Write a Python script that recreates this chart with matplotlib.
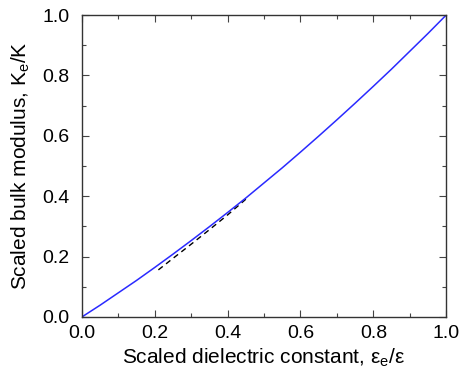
import matplotlib
matplotlib.use("Agg")
import matplotlib.pyplot as plt
from matplotlib.ticker import MultipleLocator

plt.rcParams['font.family'] = ['Liberation Sans', 'DejaVu Sans']
plt.rcParams['mathtext.fontset'] = 'custom'
plt.rcParams['mathtext.rm'] = 'Liberation Sans'

# blue curve
eps_ratio = [0.0, 0.05, 0.10, 0.15, 0.20, 0.25, 0.30, 0.35, 0.40, 0.45, 0.50,
             0.55, 0.60, 0.65, 0.70, 0.75, 0.80, 0.85, 0.90, 0.95, 1.0]
k_ratio = [0.0, 0.039, 0.080, 0.121, 0.164, 0.208, 0.253, 0.299, 0.346, 0.394, 0.444,
           0.494, 0.546, 0.599, 0.653, 0.708, 0.764, 0.821, 0.880, 0.939, 1.0]

# black dashed segment
eps_dash = [0.21, 0.25, 0.30, 0.35, 0.40, 0.45]
k_dash = [0.156, 0.194, 0.241, 0.289, 0.338, 0.390]

fig = plt.figure(figsize=(4.6, 3.76), dpi=100)
ax = fig.add_axes([0.178, 0.157, 0.792, 0.803])

ax.plot(eps_dash, k_dash, color='black', lw=1.0, dashes=(4, 3))
ax.plot(eps_ratio, k_ratio, color='#2a2aff', lw=1.1)

ax.set_xlim(0, 1)
ax.set_ylim(0, 1)
ax.xaxis.set_major_locator(MultipleLocator(0.2))
ax.yaxis.set_major_locator(MultipleLocator(0.2))
ax.xaxis.set_minor_locator(MultipleLocator(0.1))
ax.yaxis.set_minor_locator(MultipleLocator(0.1))
ax.tick_params(which='both', direction='in', top=True, right=True, color='#444444')
ax.tick_params(which='major', length=5, width=0.8, labelsize=14)
ax.tick_params(which='minor', length=3, width=0.8)
ax.tick_params(axis='y', pad=9)
ax.tick_params(axis='x', pad=6)
for s in ax.spines.values():
    s.set_linewidth(1.0)
    s.set_color('#333333')

ax.set_xlabel('Scaled dielectric constant, ε$_\\mathrm{e}$/ε', fontsize=15, labelpad=3)
ax.set_ylabel('Scaled bulk modulus, K$_\\mathrm{e}$/K', fontsize=15, labelpad=7)

fig.savefig('out.png', dpi=100)
